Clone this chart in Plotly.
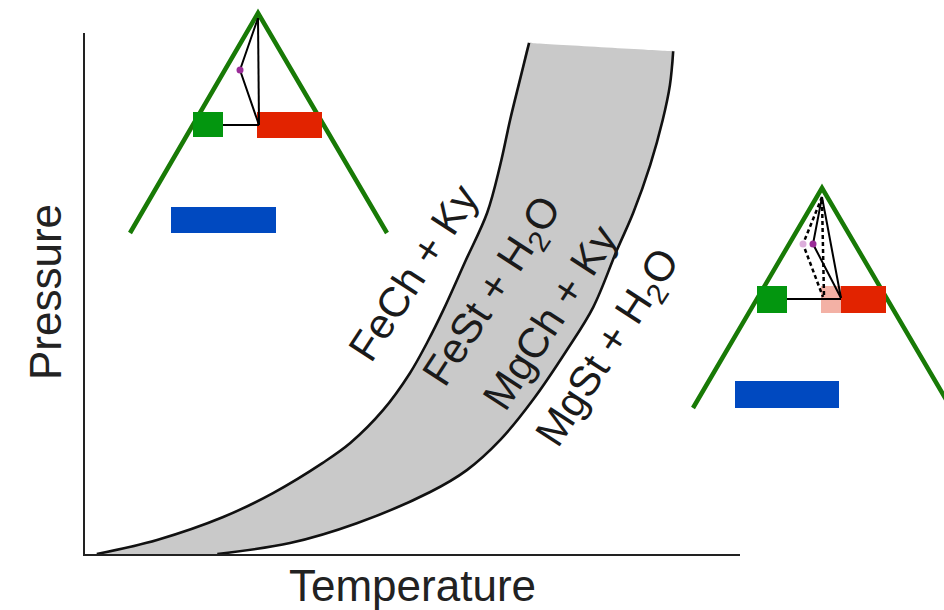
import plotly.graph_objects as go

W, H = 944, 610

# ---- P-T diagram data (axis units: 0-100 on both axes) ----
left_T = [1.8, 11.0, 21.1, 28.7, 36.3, 40.5, 45.5, 49.6, 52.2, 54.7, 58.0, 61.4, 63.4, 64.9, 66.4, 67.8]
left_P = [0, 2.7, 7.1, 11.7, 17.5, 21.3, 27.6, 34.7, 40.5, 46.8, 56.0, 65.5, 74.7, 83.3, 91.0, 98.1]
right_T = [20.2, 31.3, 41.5, 52.7, 58.3, 63.4, 68.4, 73.6, 77.6, 81.2, 83.7, 86.3, 88.2, 89.3, 89.8]
right_P = [0, 2.1, 5.9, 11.9, 16.1, 21.9, 29.6, 39.2, 47.4, 58.3, 65.5, 74.7, 83.3, 90.0, 96.5]

labels = ["FeCh + Ky", "FeSt + H<sub>2</sub>O", "MgCh + Ky", "MgSt + H<sub>2</sub>O"]
label_T = [50.1, 62.5, 71.0, 80.1]
label_P = [54.1, 50.3, 45.3, 39.4]

# ---- inset triangle diagrams (overlay space, pixel-like units) ----
tri1 = dict(apex=(258, 13), left=(130, 233), right=(387, 233))
tri1_green = [193, 223, 112, 137]
tri1_red = [257, 322, 112, 138]
tri1_blue = [171, 276, 207, 233]
tri1_solid = [[(223, 125), (259, 125)], [(258, 18), (259, 125)], [(258, 18), (240, 70), (259, 125)]]
tri1_dot = (240, 70)

tri2 = dict(apex=(822, 188), left=(693, 408), right=(951, 408))
tri2_green = [757, 787, 286, 313]
tri2_pink = [821, 841, 286, 313]
tri2_red = [841, 886, 286, 313]
tri2_blue = [735, 839, 381, 408]
tri2_solid = [[(787, 299), (841, 299)], [(822, 197), (841, 298)], [(822, 197), (813, 244), (841, 298)]]
tri2_dashed = [[(822, 197), (803, 244), (823, 297)], [(822, 200), (824, 297)]]
tri2_dot = (813, 244)
tri2_dot_light = (803, 244)

GREEN_LINE = "#187a06"
GREEN_BOX = "#03960f"
RED = "#e22300"
PINK = "#f3b1a5"
BLUE = "#0049c0"
PURPLE = "#9a2c98"
LIGHT_PURPLE = "#dcaedb"
FONT = "Liberation Sans, Arial"

fig = go.Figure()


def near(a, b, f=0.03):
    """point a small step from a toward b (keeps spline corners sharp)"""
    return a[0] + (b[0] - a[0]) * f, a[1] + (b[1] - a[1]) * f


# grey field: closed outline = left curve up, top edge, right curve down, bottom edge
lt, rt = (left_T[-1], left_P[-1]), (right_T[-1], right_P[-1])
lb, rb = (left_T[0], left_P[0]), (right_T[0], right_P[0])
corner_pts = [near(lt, rt), near(rt, lt)]
bottom_pts = [near(rb, lb), near(lb, rb)]
poly_T = left_T + [p[0] for p in corner_pts] + right_T[::-1] + [p[0] for p in bottom_pts]
poly_P = left_P + [p[1] for p in corner_pts] + right_P[::-1] + [p[1] for p in bottom_pts]
fig.add_trace(go.Scatter(x=poly_T, y=poly_P, fill="toself", fillcolor="#c9c9c9", mode="lines",
                         line=dict(width=0, shape="spline", simplify=False),
                         hoverinfo="skip", showlegend=False))
for xs, ys in [(left_T, left_P), (right_T, right_P)]:
    fig.add_trace(go.Scatter(x=xs, y=ys, mode="lines",
                             line=dict(color="#111", width=2.6, shape="spline", simplify=False),
                             hoverinfo="skip", showlegend=False))

for txt, t, p in zip(labels, label_T, label_P):
    fig.add_annotation(x=t, y=p, xref="x", yref="y", text=txt, showarrow=False,
                       textangle=-57, font=dict(family=FONT, size=42, color="#1a1a1a"),
                       xanchor="center", yanchor="middle")


def rect(r, color):
    x0, x1, y0, y1 = r
    fig.add_trace(go.Scatter(x=[x0, x1, x1, x0, x0], y=[y0, y0, y1, y1, y0],
                             fill="toself", fillcolor=color, mode="lines",
                             line=dict(width=0), xaxis="x2", yaxis="y2",
                             hoverinfo="skip", showlegend=False))


def poly(pts, color, width, dash="solid"):
    fig.add_trace(go.Scatter(x=[p[0] for p in pts], y=[p[1] for p in pts], mode="lines",
                             line=dict(color=color, width=width, dash=dash),
                             xaxis="x2", yaxis="y2", hoverinfo="skip", showlegend=False))


def dot(p, color, size):
    fig.add_trace(go.Scatter(x=[p[0]], y=[p[1]], mode="markers",
                             marker=dict(color=color, size=size), xaxis="x2", yaxis="y2",
                             hoverinfo="skip", showlegend=False))


for tri in (tri1, tri2):
    poly([tri["left"], tri["apex"], tri["right"]], GREEN_LINE, 4.5)

rect(tri1_green, GREEN_BOX)
rect(tri1_red, RED)
rect(tri1_blue, BLUE)
for seg in tri1_solid:
    poly(seg, "#000", 2)
dot(tri1_dot, PURPLE, 7)

rect(tri2_green, GREEN_BOX)
rect(tri2_pink, PINK)
rect(tri2_red, RED)
rect(tri2_blue, BLUE)
for seg in tri2_solid:
    poly(seg, "#000", 2)
for seg in tri2_dashed:
    poly(seg, "#000", 2.5, dash="4px,3px")
dot(tri2_dot_light, LIGHT_PURPLE, 7)
dot(tri2_dot, PURPLE, 7)

fig.add_annotation(x=412 / W, y=1 - 585 / H, xref="paper", yref="paper", text="Temperature",
                   showarrow=False, font=dict(family=FONT, size=44, color="#222"),
                   xanchor="center", yanchor="middle")
fig.add_annotation(x=45 / W, y=1 - 292 / H, xref="paper", yref="paper", text="Pressure",
                   showarrow=False, textangle=-90, font=dict(family=FONT, size=44, color="#222"),
                   xanchor="center", yanchor="middle")

fig.update_layout(
    width=W, height=H, margin=dict(l=0, r=0, t=0, b=0),
    paper_bgcolor="white", plot_bgcolor="rgba(0,0,0,0)",
    xaxis=dict(domain=[85 / W, 740 / W], range=[0, 100], showline=True, linecolor="#222",
               linewidth=2, showgrid=False, zeroline=False, showticklabels=False, ticks=""),
    yaxis=dict(domain=[1 - 554 / H, 1 - 33 / H], range=[0, 100], showline=True, linecolor="#222",
               linewidth=2, showgrid=False, zeroline=False, showticklabels=False, ticks=""),
    xaxis2=dict(domain=[0, 1], range=[0, W], anchor="y2", visible=False),
    yaxis2=dict(domain=[0, 1], range=[H, 0], anchor="x2", visible=False),
)

fig.write_html("out.html")
